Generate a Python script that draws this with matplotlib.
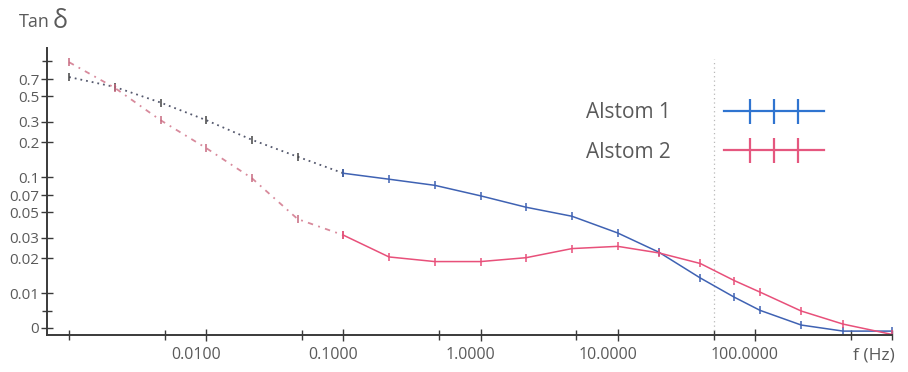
import matplotlib
matplotlib.use("Agg")
import matplotlib.pyplot as plt
from matplotlib.lines import Line2D
from matplotlib.legend_handler import HandlerLine2D, HandlerTuple
import matplotlib.transforms as mtransforms

# ---- data ----
freq = [0.001, 0.00215, 0.00464, 0.01, 0.0215, 0.0464, 0.1, 0.215, 0.464, 1.0,
        2.15, 4.64, 10.0, 20.0, 40.0, 71.0, 109.0, 218.0, 440.0, 1000.0]
alstom1 = [0.73, 0.60, 0.44, 0.31, 0.21, 0.15, 0.108, 0.096, 0.085, 0.069,
           0.055, 0.046, 0.033, 0.0225, 0.0135, 0.0092, 0.0071, 0.0053, 0.0047, 0.0047]
alstom2 = [0.98, 0.59, 0.31, 0.178, 0.098, 0.0435, 0.0316, 0.0205, 0.0187, 0.0187,
           0.0202, 0.0242, 0.0253, 0.0222, 0.018, 0.0128, 0.0102, 0.007, 0.0054, 0.0044]
n_dotted = 7  # points up to 0.1 Hz drawn dotted

x_major = [0.01, 0.1, 1.0, 10.0, 100.0]
x_major_labels = ["0.0100", "0.1000", "1.0000", "10.0000", "100.0000"]
x_minor = [0.001, 0.005, 0.05, 0.5, 5.0, 50.0, 500.0, 1000.0]
y_ticks = [0.005, 0.01, 0.02, 0.03, 0.05, 0.07, 0.1, 0.2, 0.3, 0.5, 0.7]
y_labels = ["0", "0.01", "0.02", "0.03", "0.05", "0.07", "0.1", "0.2", "0.3", "0.5", "0.7"]
y_minor = [0.007, 1.0]
ref_freq = 50.0

# ---- style ----
plt.rcParams['font.family'] = ['Open Sans', 'DejaVu Sans']
TXT = '#5a5a5a'
AX = '#3a3a3a'
BLUE = '#3f62b3'
RED = '#e8507a'
BLUE_LEG = '#2f74d0'
RED_LEG = '#e5577f'

fig = plt.figure(figsize=(9.08, 3.72), dpi=100)
ax = fig.add_axes([47/908, 1-335/372, (892-47)/908, (335-48)/372])
ax.set_xscale('log')
ax.set_yscale('log')
ax.set_xlim(6.9e-4, 1000)
ax.set_ylim(0.00435, 1.3)

# reference vertical line at 50 Hz
ax.axvline(ref_freq, ymin=0, ymax=0.96, color='#b8b8b8', lw=0.9, ls=(0, (1, 2.5)))

# dotted low-frequency parts
ax.plot(freq[:n_dotted], alstom1[:n_dotted], color='#55596e', lw=1.3, ls=(0, (1, 2.2)),
        marker='|', ms=6, mew=1.1, mec='#444444')
ax.plot(freq[:n_dotted], alstom2[:n_dotted], color='#d88a9c', lw=1.3, ls=(0, (3, 3, 1, 3)),
        marker='|', ms=6, mew=1.1, mec='#c86a80')
# solid parts
ax.plot(freq[n_dotted-1:], alstom1[n_dotted-1:], color=BLUE, lw=1.1,
        marker='|', ms=6, mew=1.1)
ax.plot(freq[n_dotted-1:], alstom2[n_dotted-1:], color=RED, lw=1.1,
        marker='|', ms=6, mew=1.1)

# spines
for s in ['top', 'right']:
    ax.spines[s].set_visible(False)
for s in ['left', 'bottom']:
    ax.spines[s].set_color(AX)
    ax.spines[s].set_linewidth(1.4)

# ticks
ax.set_xticks(x_major)
ax.set_xticklabels(x_major_labels)
ax.set_xticks(x_minor, minor=True)
ax.set_xticklabels([], minor=True)
ax.set_yticks(y_ticks)
ax.set_yticklabels(y_labels)
ax.set_yticks(y_minor, minor=True)
ax.set_yticklabels([], minor=True)
ax.tick_params(axis='both', which='major', direction='inout', length=9, width=1.0,
               color=AX, labelcolor=TXT)
ax.tick_params(axis='x', which='major', labelsize=11.5, pad=4)
ax.tick_params(axis='y', which='major', labelsize=11, pad=1)
ax.tick_params(axis='both', which='minor', direction='inout', length=7, width=1.0,
               color=AX)
shift = mtransforms.ScaledTranslation(-10/100, 0, fig.dpi_scale_trans)
for lab in ax.get_xticklabels():
    lab.set_transform(lab.get_transform() + shift)

# axis titles
fig.text(19/908, 1-22/372, "Tan", color=TXT, fontsize=13, va='center', ha='left')
fig.text(53/908, 1-21/372, "δ", color=TXT, fontsize=18, va='center', ha='left')
fig.text(853/908, 1-356/372, "f (Hz)", color=TXT, fontsize=12.5, va='center', ha='left')

# legend: full-width line + three tick markers
l1 = Line2D([], [], color=BLUE_LEG, lw=1.6)
m1 = Line2D([], [], color=BLUE_LEG, lw=0, marker='|', ms=18, mew=1.6)
l2 = Line2D([], [], color=RED_LEG, lw=1.6)
m2 = Line2D([], [], color=RED_LEG, lw=0, marker='|', ms=18, mew=1.6)
hmap = {l1: HandlerLine2D(marker_pad=0), l2: HandlerLine2D(marker_pad=0),
        m1: HandlerLine2D(marker_pad=1.25), m2: HandlerLine2D(marker_pad=1.25),
        tuple: HandlerTuple(ndivide=1)}
leg = fig.legend([(l1, m1), (l2, m2)], ["Alstom 1", "Alstom 2"], loc='upper left',
                 bbox_to_anchor=(586/908, 1-102/372), frameon=False, markerfirst=False,
                 numpoints=3, handlelength=4.8, handletextpad=2.55, labelspacing=0.9,
                 borderpad=0, borderaxespad=0, prop={'size': 15},
                 handler_map=hmap)
for t in leg.get_texts():
    t.set_color(TXT)

fig.savefig("out.png", dpi=100)
